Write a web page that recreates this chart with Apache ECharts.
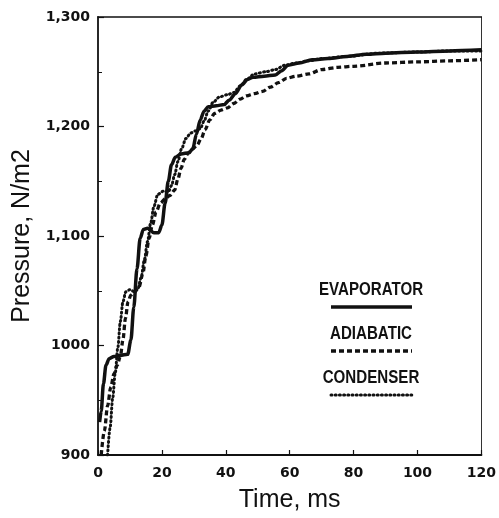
<!DOCTYPE html>
<html>
<head>
<meta charset="utf-8">
<script src="https://cdn.jsdelivr.net/npm/echarts@6/dist/echarts.min.js"></script>
<style>
html,body{margin:0;padding:0;background:#fff;}
#chart{width:499px;height:518px;}
</style>
</head>
<body>
<div id="chart"></div>
<script>
// Data: [time (ms), pressure (N/m2)]
const evaporator = [
[0.5,930],[1,940],[1.7,965],[2.5,982],[3.5,988],[5,990],[7,991],[9.3,992],[10.3,1005],[11.2,1035],[12.2,1070],[13.2,1098],[14.2,1106],[15.5,1107],[17.5,1103],[19,1103],[20,1110],[21,1130],[22,1150],[23,1165],[24.2,1172],[26,1175],[28.5,1176],[29.7,1180],[30.8,1193],[32,1206],[33.2,1214],[34.5,1218],[37,1219],[39.5,1220],[41,1224],[43,1230],[45,1238],[46.8,1243],[48.5,1245],[52,1246],[55.5,1247],[57.5,1251],[59.5,1256],[63,1258],[67,1261],[72,1262],[78,1264],[84,1266],[90,1267],[100,1268],[110,1269],[120,1270]
];
const adiabatic = [
[1,900],[2,922],[3,945],[4,962],[5,974],[6,982],[7,990],[7.8,1005],[8.6,1025],[9.4,1040],[10.3,1046],[11.5,1049],[12.8,1053],[14,1065],[15,1082],[16,1098],[17,1110],[18.2,1122],[19.5,1130],[21,1134],[22.5,1137],[24,1142],[25,1152],[26,1162],[27,1170],[28.3,1176],[29.5,1179],[31,1183],[32.3,1189],[33.5,1197],[35,1206],[36.5,1212],[38.5,1215],[40.5,1217],[42.5,1221],[44.5,1225],[46.5,1228],[49,1230],[51.5,1232],[54,1236],[56.5,1240],[59,1244],[62,1246],[66,1248],[70,1252],[75,1254],[80,1255],[90,1258],[100,1259],[110,1260],[120,1261]
];
const condenser = [
[3,900],[3.8,925],[4.6,952],[5.4,975],[6.2,998],[7,1022],[7.8,1040],[8.7,1049],[10,1051],[11.5,1049],[12.5,1052],[13.5,1062],[14.5,1078],[15.5,1095],[16.5,1112],[17.5,1127],[18.7,1138],[20.5,1141],[22,1140],[23,1146],[24,1156],[25,1168],[26.2,1180],[27.5,1189],[29,1194],[30.5,1196],[32,1198],[33.2,1205],[34.5,1214],[36,1222],[38,1227],[40.5,1229],[42.5,1231],[44.5,1237],[46.5,1243],[49,1248],[52.5,1250],[55.5,1252],[58.5,1256],[62,1258],[66,1260],[70,1262],[78,1264],[88,1267],[100,1268],[110,1269],[120,1269]
];
const seriesNames = ['EVAPORATOR','ADIABATIC','CONDENSER'];
const yTickValues = [900,1000,1100,1200,1300];
const yTickLabels = ['900','1000','1,100','1,200','1,300'];
const xTickLabels = ['0','20','40','60','80','100','120'];

const chart = echarts.init(document.getElementById('chart'), null, {renderer:'canvas'});
const ink = '#111';
const tickFont = {fontFamily:'DejaVu Sans', fontWeight:'bold', color:ink};

const legendGraphics = [];
const legendStyles = [
  {lineDash:null, lineWidth:3.5, cap:'butt'},
  {lineDash:[5,3], lineWidth:3.5, cap:'butt'},
  {lineDash:[1,3.2], lineWidth:3, cap:'round'}
];
const legendTop = [290, 334, 378];
seriesNames.forEach((n,i)=>{
  legendGraphics.push({
    type:'text', x:371, y:legendTop[i], scaleX:0.84,
    style:{text:n, font:'bold 18px "Liberation Sans"', fill:ink, textAlign:'center', textVerticalAlign:'middle'}
  });
  legendGraphics.push({
    type:'line', shape:{x1:331, y1:legendTop[i]+17, x2:412, y2:legendTop[i]+17},
    style:{stroke:ink, lineWidth:legendStyles[i].lineWidth, lineDash:legendStyles[i].lineDash, lineCap:legendStyles[i].cap}
  });
});

const option = {
  backgroundColor:'#fff',
  animation:false,
  grid:{left:98, right:14, top:17, bottom:58, containLabel:false},
  xAxis:[{
    type:'value', min:0, max:120, interval:20,
    name:'Time, ms', nameLocation:'middle', nameGap:33,
    nameTextStyle:{fontFamily:'Liberation Sans', fontSize:25, color:ink},
    axisLine:{show:true, onZero:false, lineStyle:{color:ink, width:2}},
    axisTick:{show:true, inside:true, length:5, lineStyle:{color:ink, width:1.2}},
    axisLabel:Object.assign({fontSize:14, margin:11, formatter:(v)=>xTickLabels[Math.round(v/20)]}, tickFont),
    splitLine:{show:false}
  },{
    type:'value', min:0, max:120, position:'top',
    axisLine:{show:true, onZero:false, lineStyle:{color:ink, width:1.5}},
    axisTick:{show:false}, axisLabel:{show:false}, splitLine:{show:false}
  }],
  yAxis:[{
    type:'value', min:900, max:1300, interval:100,
    name:'Pressure, N/m2', nameLocation:'middle', nameGap:56, nameRotate:90,
    nameTextStyle:{fontFamily:'Liberation Sans', fontSize:25, color:ink},
    axisLine:{show:true, onZero:false, lineStyle:{color:ink, width:1.8}},
    axisTick:{show:true, inside:true, length:6, lineStyle:{color:ink, width:1.2}},
    minorTick:{show:true, splitNumber:2, length:4, lineStyle:{color:ink, width:1}},
    axisLabel:Object.assign({fontSize:14, margin:8, formatter:(v)=>yTickLabels[yTickValues.indexOf(v)]}, tickFont),
    splitLine:{show:false}
  },{
    type:'value', min:900, max:1300, position:'right',
    axisLine:{show:true, onZero:false, lineStyle:{color:'#333', width:1}},
    axisTick:{show:false}, axisLabel:{show:false}, splitLine:{show:false}
  }],
  series:[
    {name:seriesNames[0], type:'line', data:evaporator, showSymbol:false, smooth:0.3, smoothMonotone:'x', clip:true,
     lineStyle:{color:ink, width:3.5}},
    {name:seriesNames[1], type:'line', data:adiabatic, showSymbol:false, smooth:0.3, smoothMonotone:'x', clip:true,
     lineStyle:{color:ink, width:3.3, type:[5,3]}},
    {name:seriesNames[2], type:'line', data:condenser, showSymbol:false, smooth:0.3, smoothMonotone:'x', clip:true,
     lineStyle:{color:ink, width:3, type:[1,3.2], cap:'round'}}
  ],
  graphic:legendGraphics
};
chart.setOption(option);
</script>
</body>
</html>
